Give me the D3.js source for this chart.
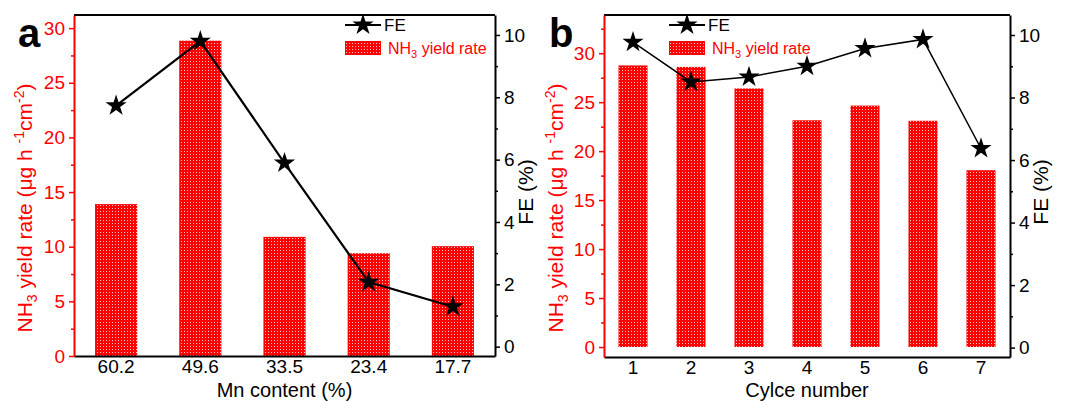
<!DOCTYPE html>
<html>
<head>
<meta charset="utf-8">
<script src="https://cdn.jsdelivr.net/npm/d3@7"></script>
<style>
  body { margin: 0; background: #fff; }
  svg { font-family: "Liberation Sans", Arial, sans-serif; }
  .tick text { font-size: 19px; }
</style>
</head>
<body>
<svg width="1070" height="401"></svg>
<script>
// panel a
var mnContent = ["60.2", "49.6", "33.5", "23.4", "17.7"];
var yieldA = [13.9, 28.85, 10.9, 9.4, 10.05];
var feA = [7.73, 9.8, 5.89, 2.07, 1.28];

// panel b
var cycles = ["1", "2", "3", "4", "5", "6", "7"];
var yieldB = [28.75, 28.6, 26.4, 23.15, 24.65, 23.1, 18.05];
var feB = [9.77, 8.5, 8.66, 9.0, 9.57, 9.86, 6.37];

var yieldTicks = [0, 5, 10, 15, 20, 25, 30];
var feTicks = [0, 2, 4, 6, 8, 10];

var red = "#ff0000";
var svg = d3.select("svg");

var defs = svg.append("defs");
var pat = defs.append("pattern")
  .attr("id", "mesh")
  .attr("width", 3).attr("height", 3)
  .attr("patternUnits", "userSpaceOnUse");
pat.append("rect").attr("width", 3).attr("height", 3).attr("fill", red);
pat.append("rect").attr("x", 1).attr("y", 1).attr("width", 1).attr("height", 1).attr("fill", "#ffc8c8");

var star = d3.symbol().type(d3.symbolStar).size(140);

function drawPanel(p) {
  var x = d3.scaleBand().domain(p.cats).range([p.left, p.right]),
    yL = d3.scaleLinear().domain(p.leftDomain).range([p.bottom, p.top]),
    yR = d3.scaleLinear().domain([-0.3, 10.64]).range([p.bottom, p.top]);

  var g = svg.append("g");

  // bars
  g.selectAll(".bar")
    .data(p.bars)
    .enter()
    .append("rect")
    .attr("x", function (d, i) { return x(p.cats[i]) + x.bandwidth() * 0.25; })
    .attr("width", x.bandwidth() * 0.5)
    .attr("y", function (d) { return yL(d); })
    .attr("height", function (d) { return yL(0) - yL(d); })
    .attr("fill", "url(#mesh)");

  // FE line + stars
  var line = d3.line()
    .x(function (d, i) { return x(p.cats[i]) + x.bandwidth() / 2; })
    .y(function (d) { return yR(d); });
  g.append("path")
    .datum(p.fe)
    .attr("d", line)
    .attr("fill", "none")
    .attr("stroke", "#000")
    .attr("stroke-width", p.lineW);
  g.selectAll(".star")
    .data(p.fe)
    .enter()
    .append("path")
    .attr("d", star)
    .attr("transform", function (d, i) {
      return "translate(" + (x(p.cats[i]) + x.bandwidth() / 2) + "," + yR(d) + ")";
    })
    .attr("fill", "#000");

  // frame top
  g.append("line")
    .attr("x1", p.left).attr("x2", p.right)
    .attr("y1", p.top).attr("y2", p.top)
    .attr("stroke", "#000").attr("stroke-width", 2);

  // bottom axis
  var xa = g.append("g")
    .attr("transform", "translate(0," + p.bottom + ")")
    .call(d3.axisBottom(x).tickSize(0).tickPadding(4));
  xa.select(".domain").attr("stroke-width", 2);

  // left axis (red)
  var minorL = d3.range(2.5, p.leftDomain[1], 5);
  g.append("g")
    .attr("transform", "translate(" + p.left + ",0)")
    .call(d3.axisLeft(yL).tickValues(minorL).tickSize(3).tickFormat(""))
    .call(function (s) { s.select(".domain").remove(); })
    .selectAll("line").attr("stroke", red).attr("stroke-width", 1.5);
  var la = g.append("g")
    .attr("transform", "translate(" + p.left + ",0)")
    .call(d3.axisLeft(yL).tickValues(yieldTicks).tickSize(5).tickPadding(4).tickSizeOuter(0));
  la.select(".domain").attr("stroke", red).attr("stroke-width", 2);
  la.selectAll(".tick line").attr("stroke", red).attr("stroke-width", 1.5);
  la.selectAll(".tick text").attr("fill", red);

  // right axis
  g.append("g")
    .attr("transform", "translate(" + p.right + ",0)")
    .call(d3.axisRight(yR).tickValues([1, 3, 5, 7, 9]).tickSize(3).tickFormat(""))
    .call(function (s) { s.select(".domain").remove(); })
    .selectAll("line").attr("stroke-width", 1.5);
  var ra = g.append("g")
    .attr("transform", "translate(" + p.right + ",0)")
    .call(d3.axisRight(yR).tickValues(feTicks).tickSize(5).tickPadding(4).tickSizeOuter(0));
  ra.select(".domain").attr("stroke-width", 2);
  ra.selectAll(".tick line").attr("stroke-width", 1.5);

  // axis titles
  g.append("text")
    .attr("x", (p.left + p.right) / 2)
    .attr("y", 397)
    .attr("text-anchor", "middle")
    .style("font-size", "20px")
    .text(p.xTitle);

  var yt = g.append("text")
    .attr("transform", "translate(" + p.yLabelX + ",208) rotate(-90)")
    .attr("text-anchor", "middle")
    .attr("fill", red)
    .style("font-size", "21px");
  yt.append("tspan").text("NH");
  yt.append("tspan").attr("dy", 5).style("font-size", "14px").text("3");
  yt.append("tspan").attr("dy", -5).text(" yield rate (μg h ");
  yt.append("tspan").attr("dy", -8).style("font-size", "14px").text("-1");
  yt.append("tspan").attr("dy", 8).text("cm");
  yt.append("tspan").attr("dy", -8).style("font-size", "14px").text("-2");
  yt.append("tspan").attr("dy", 8).text(")");

  g.append("text")
    .attr("transform", "translate(" + (p.right + 38) + ",192) rotate(-90)")
    .attr("text-anchor", "middle")
    .style("font-size", "21px")
    .text("FE (%)");

  // panel letter
  g.append("text")
    .attr("x", p.letterX)
    .attr("y", 47)
    .style("font-size", "40px")
    .style("font-weight", "bold")
    .text(p.letter);

  // legend
  var lg = g.append("g").attr("transform", "translate(" + p.legendX + ",0)");
  lg.append("line")
    .attr("x1", 0).attr("x2", 36)
    .attr("y1", 25).attr("y2", 25)
    .attr("stroke", "#000").attr("stroke-width", 2);
  lg.append("path").attr("d", star).attr("transform", "translate(18,25)");
  lg.append("text").attr("x", 39).attr("y", 31).style("font-size", "17px").text("FE");
  lg.append("rect")
    .attr("x", 0).attr("y", 41)
    .attr("width", 36).attr("height", 14)
    .attr("fill", "url(#mesh)");
  var lt = lg.append("text")
    .attr("x", 43).attr("y", 54)
    .attr("fill", red)
    .style("font-size", "16px");
  lt.append("tspan").text("NH");
  lt.append("tspan").attr("dy", 4).style("font-size", "11px").text("3");
  lt.append("tspan").attr("dy", -4).text(" yield rate");
}

drawPanel({
  cats: mnContent, bars: yieldA, fe: feA,
  left: 74, right: 495, top: 15, bottom: 356,
  leftDomain: [0, 31.2], lineW: 2.2,
  xTitle: "Mn content (%)", yLabelX: 32, letterX: 18, letter: "a",
  legendX: 345
});

drawPanel({
  cats: cycles, bars: yieldB, fe: feB,
  left: 604, right: 1010, top: 15, bottom: 357,
  leftDomain: [-1.02, 33.9], lineW: 1.5,
  xTitle: "Cylce number", yLabelX: 563, letterX: 549, letter: "b",
  legendX: 669
});
</script>
</body>
</html>
